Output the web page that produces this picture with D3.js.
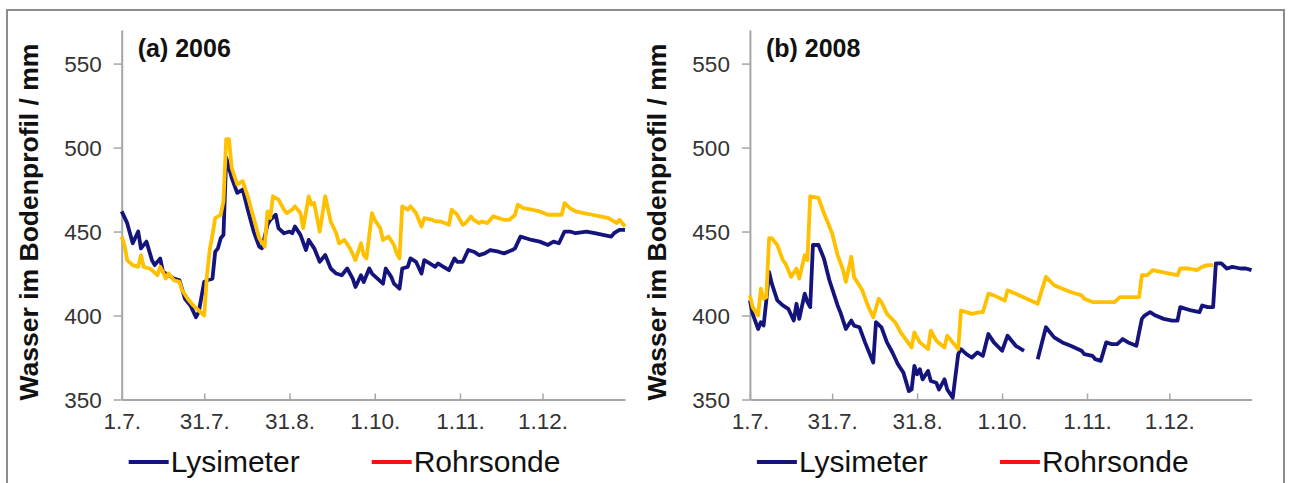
<!DOCTYPE html>
<html>
<head>
<meta charset="utf-8">
<script src="https://d3js.org/d3.v7.min.js"></script>
<style>
    body { margin: 0; background: #fff; }
    text { font-family: "Liberation Sans", Arial, sans-serif; }
</style>
</head>
<body>
<div id="chart"></div>
<script>
// x axis: days after 1.7.
var tickDays = [0, 30, 61, 92, 123, 153];
var tickLabels = ["1.7.", "31.7.", "31.8.", "1.10.", "1.11.", "1.12."];
var yTicks = [350, 400, 450, 500, 550];

// (a) 2006
var lysDays2006 = [0, 2, 4, 6, 7, 9, 11, 12, 14, 15, 17, 19, 21, 23, 25, 27, 28, 30, 31, 33, 34, 35, 36, 37, 38, 40, 42, 44, 46, 48, 50, 51, 53, 54, 56, 57, 59, 61, 62, 63,
    65, 67, 68, 70, 72, 74, 76, 78, 80, 82, 84, 85, 87, 88, 90, 91, 93, 95, 96, 98, 99, 101, 102, 104, 105, 107, 109, 110, 112, 114, 115, 117, 119, 121, 122, 124,
    126, 128, 130, 132, 134, 137, 139, 142, 143, 145, 147, 149, 152, 155, 157, 159, 161, 163, 165, 169, 172, 175, 178, 179, 181, 183];
var lys2006 = [462, 455, 443, 450, 440, 444, 433, 430, 434, 426, 424, 422, 421, 410, 406, 399, 402, 420, 421, 422, 438, 440, 446, 448, 494, 482, 473, 475, 462, 450, 441, 440, 454, 457, 460, 452, 449, 450, 449, 453,
    448, 439, 445, 440, 432, 436, 428, 425, 424, 428, 422, 417, 424, 420, 428, 425, 422, 419, 428, 423, 419, 416, 428, 429, 434, 432, 425, 433, 431, 429, 431, 429, 427, 434, 432, 432,
    439, 438, 436, 437, 439, 438, 437, 439, 440, 447, 446, 445, 444, 442, 444, 443, 450, 450, 449, 450, 449, 448, 447, 449, 451, 451];

var rohrDays2006 = [0, 1, 2, 4, 6, 7, 8, 10, 11, 13, 14, 15, 16, 17, 19, 21, 22, 24, 26, 28, 30, 31, 32, 33, 34, 36, 37, 38, 39, 40, 42, 44, 46, 48, 50, 52, 53, 54, 55, 57, 59, 60, 62, 63,
    65, 66, 68, 69, 70, 72, 74, 76, 78, 79, 81, 83, 85, 87, 88, 89, 91, 92, 94, 95, 97, 99, 100, 101, 102, 104, 105, 107, 109, 110, 113, 114, 116, 119, 120, 122, 124,
    125, 127, 128, 130, 131, 133, 135, 137, 139, 141, 143, 144, 146, 149, 152, 155, 157, 160, 161, 163, 165, 168, 171, 174, 177, 180, 181, 183];
var rohr2006 = [447, 442, 433, 430, 429, 436, 429, 428, 427, 424, 429, 426, 422, 425, 421, 420, 415, 410, 406, 403, 400, 424, 439, 448, 458, 460, 468, 505, 505, 488, 478, 480, 470, 458, 446, 441, 462, 458, 471, 469, 463, 461, 463, 465,
    461, 452, 471, 466, 467, 450, 471, 456, 449, 443, 445, 440, 433, 443, 436, 434, 461, 457, 452, 445, 447, 442, 437, 434, 465, 463, 465, 461, 453, 458, 457, 456, 456, 454, 463, 460, 454,
    455, 459, 457, 455, 456, 455, 459, 458, 457, 457, 460, 466, 464, 463, 462, 460, 460, 460, 467, 464, 462, 461, 460, 459, 458, 455, 457, 453];

// (b) 2008, null = no data
var lysDays2008 = [0, 1, 3, 4, 5, 6, 7, 8, 10, 12, 14, 16, 17, 18, 20, 21, 22, 23, 25, 27, 29, 32, 33, 35, 37, 38, 40, 42, 45, 46, 48, 50, 52, 54, 56, 58, 59, 60, 61, 62, 63, 65, 66, 68, 69, 71, 72, 74,
    76, 77, 79, 81, 83, 85, 87, 89, 92, 94, 97, 100, 102, 105, 108, 111, 114, 117, 121, 122, 125, 126, 128, 130, 132, 134, 136, 138, 141, 143, 144, 146, 148, 151, 154, 156,
    157, 161, 164, 165, 167, 169, 170, 172, 174, 176, 179, 181, 183];
var lys2008 = [409, 401, 392, 396, 394, 409, 426, 419, 409, 406, 404, 397, 407, 398, 413, 408, 405, 442, 442, 434, 421, 406, 402, 392, 397, 394, 393, 384, 372, 396, 393, 384, 378, 371, 366, 355, 356, 370, 365, 368, 362, 367, 361, 360, 356, 362, 356, 351,
    377, 380, 377, 375, 378, 376, 389, 384, 379, 388, 382, 379, null, 374, 393, 387, 384, 382, 379, 377, 376, 374, 373, 384, 383, 383, 386, 384, 382, 398, 400, 402, 400, 398, 397, 397,
    405, 403, 402, 406, 405, 405, 431, 431, 428, 429, 428, 428, 427];

var rohrDays2008 = [0, 1, 3, 4, 5, 6, 7, 8, 10, 12, 13, 15, 17, 18, 20, 21, 22, 25, 27, 30, 32, 34, 35, 37, 38, 41, 43, 45, 47, 48, 50, 53, 55, 59, 60, 62, 65, 66, 68, 71, 72, 74,
    76, 77, 79, 81, 84, 85, 87, 89, 93, 94, 97, 101, 105, 108, 111, 114, 117, 121, 122, 125, 130, 133, 135, 138, 142, 143, 145, 147, 150, 153, 156, 157, 160, 163, 165, 167, 169];
var rohr2008 = [412, 405, 400, 416, 410, 411, 446, 446, 442, 433, 431, 423, 428, 422, 436, 433, 471, 470, 461, 449, 436, 427, 420, 435, 423, 415, 406, 399, 410, 408, 401, 396, 390, 381, 390, 384, 380, 391, 385, 381, 388, 384,
    380, 403, 402, 401, 402, 402, 413, 412, 409, 415, 413, 410, 407, 423, 418, 416, 414, 412, 410, 408, 408, 408, 411, 411, 411, 424, 424, 427, 426, 425, 424, 428, 428, 427, 429, 430, 430];

var width = 1291, height = 483;
var navy = "#14147c", gold = "#ffc000";

var svg = d3.select("#chart").append("svg")
    .attr("width", width)
    .attr("height", height);

// grey frame round the figure
svg.append("rect")
    .attr("x", 7).attr("y", 10)
    .attr("width", 1277).attr("height", 490)
    .attr("fill", "none")
    .attr("stroke", "#8c8c8c")
    .attr("stroke-width", 2);

function zip(days, vals) {
    return days.map(function (d, i) { return {day: d, val: vals[i]}; });
}

function drawPanel(left, right, title, lysDays, lysVals, rohrDays, rohrVals, labelX) {
    var x = d3.scaleLinear().domain([0, 183]).range([left, right]);
    var y = d3.scaleLinear().domain([350, 570]).range([399.5, 30]);
    var g = svg.append("g");

    // y axis, ticks outside
    var yAxis = g.append("g")
        .attr("transform", "translate(" + left + ",0)")
        .call(d3.axisLeft(y).tickValues(yTicks).tickSize(8).tickPadding(12).tickSizeOuter(0));
    // x axis, ticks pointing up
    var xAxis = g.append("g")
        .attr("transform", "translate(0," + y(350) + ")")
        .call(d3.axisBottom(x).tickValues(tickDays).tickFormat(function (d, i) { return tickLabels[i]; })
            .tickSize(-6).tickPadding(18).tickSizeOuter(0));

    [yAxis, xAxis].forEach(function (a) {
        a.select(".domain").attr("stroke", "#a6a6a6").attr("stroke-width", 2);
        a.selectAll(".tick line").attr("stroke", "#a6a6a6").attr("stroke-width", 1.5);
        a.selectAll(".tick text").attr("fill", "#333").style("font-size", "22.5px")
            .style("font-family", "Liberation Sans, Arial, sans-serif");
    });
    yAxis.selectAll(".tick text").attr("dy", "0.36em");
    xAxis.selectAll(".tick text").attr("dy", "0.5em");

    var line = d3.line()
        .defined(function (d) { return d.val != null; })
        .x(function (d) { return x(d.day); })
        .y(function (d) { return y(d.val); });

    g.append("path").datum(zip(lysDays, lysVals))
        .attr("d", line).attr("fill", "none")
        .attr("stroke", navy).attr("stroke-width", 3.8).attr("stroke-linejoin", "round");
    g.append("path").datum(zip(rohrDays, rohrVals))
        .attr("d", line).attr("fill", "none")
        .attr("stroke", gold).attr("stroke-width", 3.8).attr("stroke-linejoin", "round");

    g.append("text")
        .attr("x", left + 16).attr("y", 57)
        .style("font-size", "25px").style("font-weight", "bold")
        .attr("fill", "#111")
        .text(title);

    g.append("text")
        .attr("transform", "translate(" + (labelX + 9) + ",222) rotate(-90)")
        .attr("text-anchor", "middle")
        .style("font-size", "26.5px").style("font-weight", "bold")
        .attr("fill", "#111")
        .text("Wasser im Bodenprofil / mm");

    // legend
    var leg = g.append("g").attr("transform", "translate(" + (left + 7) + ",462)");
    leg.append("line").attr("x1", 0).attr("x2", 40).attr("stroke", navy).attr("stroke-width", 4);
    leg.append("text").attr("x", 42).attr("y", 10).style("font-size", "30px").attr("fill", "#111").text("Lysimeter");
    leg.append("line").attr("x1", 243).attr("x2", 283).attr("stroke", "#ff1010").attr("stroke-width", 4);
    leg.append("text").attr("x", 285).attr("y", 10).style("font-size", "30px").attr("fill", "#111").text("Rohrsonde");
}

drawPanel(121.7, 625, "(a) 2006", lysDays2006, lys2006, rohrDays2006, rohr2006, 29);
drawPanel(749.9, 1251.5, "(b) 2008", lysDays2008, lys2008, rohrDays2008, rohr2008, 656.5);
</script>
</body>
</html>
